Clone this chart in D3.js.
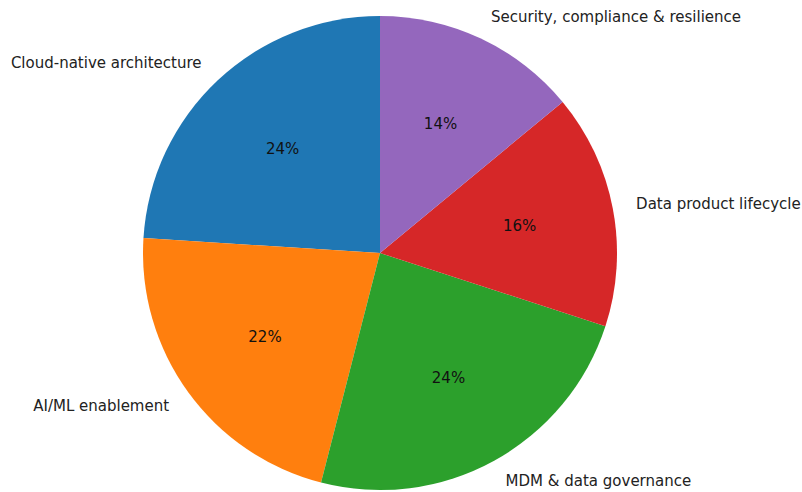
<!DOCTYPE html>
<html>
<head>
<meta charset="utf-8">
<script src="https://cdn.jsdelivr.net/npm/d3@7"></script>
<style>
  html, body { margin: 0; padding: 0; background: #fff; }
  svg { display: block; }
  text { font-family: "DejaVu Sans", sans-serif; }
</style>
</head>
<body>
<svg id="chart" width="802" height="492"></svg>
<script>
// Share of effort across the modernisation workstreams
const categories = [
  "Cloud-native architecture",
  "AI/ML enablement",
  "MDM & data governance",
  "Data product lifecycle",
  "Security, compliance & resilience"
];
const shares = [24, 22, 24, 16, 14];
const sliceColors = ["#1f77b4", "#ff7f0e", "#2ca02c", "#d62728", "#9467bd"];

const width = 802, height = 492;
const cx = 380, cy = 253, radius = 237;

const svg = d3.select("#chart");
const g = svg.append("g").attr("transform", `translate(${cx},${cy})`);

const data = categories.map((name, i) => ({ name, value: shares[i], color: sliceColors[i] }));
const total = d3.sum(shares);

// Start at 12 o'clock, run counter-clockwise
const pie = d3.pie()
  .value(d => d.value)
  .sort(null)
  .startAngle(0)
  .endAngle(-2 * Math.PI);

const arcs = pie(data);
const arc = d3.arc().innerRadius(0).outerRadius(radius);

g.selectAll("path.slice")
  .data(arcs)
  .join("path")
  .attr("class", "slice")
  .attr("d", arc)
  .attr("fill", d => d.data.color);

const mid = d => (d.startAngle + d.endAngle) / 2;
const fontSize = 15;

// Category labels outside the pie
g.selectAll("text.cat")
  .data(arcs)
  .join("text")
  .attr("class", "cat")
  .attr("x", d => 1.1 * radius * Math.sin(mid(d)))
  .attr("y", d => -1.1 * radius * Math.cos(mid(d)))
  .attr("text-anchor", d => Math.sin(mid(d)) < 0 ? "end" : "start")
  .attr("dominant-baseline", "central")
  .attr("font-size", fontSize)
  .attr("fill", "#222")
  .text(d => d.data.name);

// Percentage labels inside each slice
g.selectAll("text.pct")
  .data(arcs)
  .join("text")
  .attr("class", "pct")
  .attr("x", d => 0.6 * radius * Math.sin(mid(d)))
  .attr("y", d => -0.6 * radius * Math.cos(mid(d)))
  .attr("text-anchor", "middle")
  .attr("dominant-baseline", "central")
  .attr("font-size", fontSize)
  .attr("fill", "#111")
  .text(d => `${Math.round(d.data.value / total * 100)}%`);
</script>
</body>
</html>
